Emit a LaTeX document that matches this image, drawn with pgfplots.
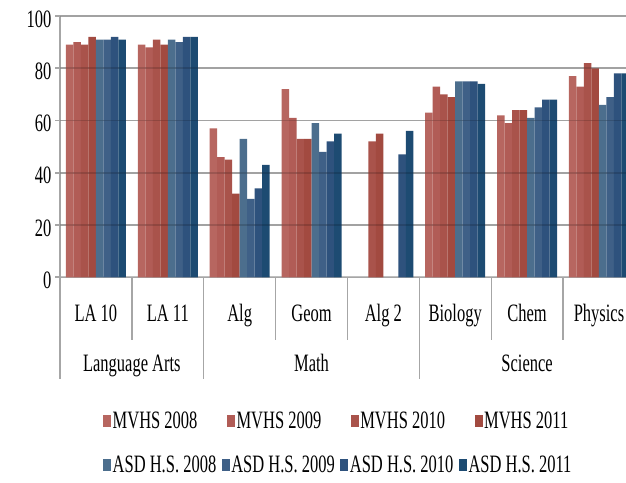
\documentclass[border=0pt]{standalone}
\usepackage{pgfplots}
\pgfplotsset{compat=1.18}
\usepackage{pgfplotstable}
\usepackage{fontspec}
\setmainfont[FakeStretch=0.66]{Liberation Serif}

\definecolor{m08}{HTML}{B76660}
\definecolor{m09}{HTML}{B15C56}
\definecolor{m10}{HTML}{A9534B}
\definecolor{m11}{HTML}{A24A40}
\definecolor{a08}{HTML}{4C6E8D}
\definecolor{a09}{HTML}{3F6087}
\definecolor{a10}{HTML}{2E527D}
\definecolor{a11}{HTML}{1D4B72}

\pgfplotstableread{
x y2008 y2009 y2010 y2011
0 89 90 89 92
1 89 88 91 89
2 57 46 45 32
3 72 61 53 53
4 nan nan 52 55
5 63 73 70 69
6 62 59 64 64
7 77 73 82 80
}\mvhs
\pgfplotstableread{
x y2008 y2009 y2010 y2011
0 91 91 92 91
1 91 90 92 92
2 53 30 34 43
3 59 48 52 55
4 nan nan 47 56
5 75 75 75 74
6 61 65 68 68
7 66 69 78 78
}\asd

\newcommand{\bigfont}{\fontsize{25}{30}\selectfont}

\pgfplotsset{
  common/.style={
    scale only axis, width=574.9pt, height=261.3pt,
    at={(60pt,204.7pt)}, anchor=south west,
    xmin=-0.5, xmax=7.5, ymin=0, ymax=100,
    clip=false, ybar, bar width=7.5pt,
  },
}

\begin{document}
\begin{tikzpicture}
\begin{axis}[common,
  axis lines*=left,
  axis line style={gray!70, line width=1.5pt},
  ymajorgrids, grid style={gray!50, line width=1.8pt},
  ytick={0,20,...,100},
  xtick={0,...,7},
  xticklabels={LA 10, LA 11, Alg, Geom, Alg 2, Biology, Chem, Physics},
  xtick style={draw=none},
  ytick style={gray!70, line width=1.8pt},
  tick align=outside, major tick length=5pt,
  tick label style={font=\bigfont},
  /pgf/number format/assume math mode=true,
  yticklabel style={yshift=-3pt},
  xticklabel style={anchor=base, yshift=-39.4pt},
  legend columns=4,
  legend image code/.code={\fill[#1] (0pt,-6.3pt) rectangle (8pt,6.3pt);},
  legend style={at={(axis description cs:0.0748,-0.55)}, anchor=west,
    draw=none, fill=none, inner sep=0pt, font=\bigfont,
    nodes={inner sep=1.5pt},
    /tikz/every even column/.append style={column sep=28pt}},
]
\addplot[fill=m08, draw=none, bar shift=-26.25pt] table[x=x,y=y2008]{\mvhs};
\addplot[fill=m09, draw=none, bar shift=-18.75pt] table[x=x,y=y2009]{\mvhs};
\addplot[fill=m10, draw=none, bar shift=-11.25pt] table[x=x,y=y2010]{\mvhs};
\addplot[fill=m11, draw=none, bar shift=-3.75pt] table[x=x,y=y2011]{\mvhs};
\legend{MVHS 2008, MVHS 2009, MVHS 2010, MVHS 2011}
\pgfplotsinvokeforeach{0.5,2.5,3.5,5.5,6.5}{
  \draw[gray!70, line width=1.3pt] (axis cs:#1,0) -- ++(0pt,-62.7pt);
}
\pgfplotsinvokeforeach{-0.5,1.5,4.5,7.5}{
  \draw[gray!70, line width=1.3pt] (axis cs:#1,0) -- ++(0pt,-102pt);
}
\node[anchor=base, font=\bigfont, yshift=-94.4pt] at (axis cs:0.5,0) {Language Arts};
\node[anchor=base, font=\bigfont, yshift=-94.4pt] at (axis cs:3,0) {Math};
\node[anchor=base, font=\bigfont, yshift=-94.4pt] at (axis cs:6,0) {Science};
\end{axis}
\begin{axis}[common, hide axis,
  legend columns=4,
  legend image code/.code={\fill[#1] (0pt,-6.3pt) rectangle (8pt,6.3pt);},
  legend style={at={(axis description cs:0.0748,-0.718)}, anchor=west,
    draw=none, fill=none, inner sep=0pt, font=\bigfont,
    nodes={inner sep=1.5pt},
    /tikz/every even column/.append style={column sep=4pt}},
]
\addplot[fill=a08, draw=none, bar shift=3.75pt] table[x=x,y=y2008]{\asd};
\addplot[fill=a09, draw=none, bar shift=11.25pt] table[x=x,y=y2009]{\asd};
\addplot[fill=a10, draw=none, bar shift=18.75pt] table[x=x,y=y2010]{\asd};
\addplot[fill=a11, draw=none, bar shift=26.25pt] table[x=x,y=y2011]{\asd};
\legend{ASD H.S. 2008, ASD H.S. 2009, ASD H.S. 2010, ASD H.S. 2011}
\pgfplotsinvokeforeach{20,40,60,80,100}{
  \draw[black, opacity=0.15, line width=1.8pt] (axis cs:-0.5,#1) -- (axis cs:7.5,#1);
}
\end{axis}
\pgfresetboundingbox
\path (0,0) rectangle (626pt,482pt);
\end{tikzpicture}
\end{document}
